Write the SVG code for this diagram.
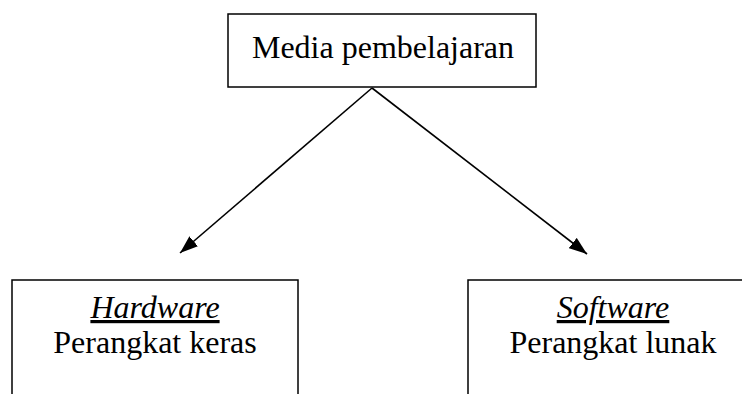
<svg xmlns="http://www.w3.org/2000/svg" width="742" height="394" viewBox="0 0 742 394">
<style>
.box{fill:#fff;stroke:#000;stroke-width:1.5}
.t{font-family:"Liberation Serif","Times New Roman",serif;font-size:32px;fill:#000;text-anchor:middle}
.i{font-style:italic;text-decoration:underline}
.c{stroke:#000;stroke-width:1.6;fill:none}
</style>
<defs>
<marker id="ah" viewBox="0 0 18 13" refX="18" refY="6.5" markerWidth="18" markerHeight="13" markerUnits="userSpaceOnUse" orient="auto">
<path d="M0,0 L18,6.5 L0,13 z" fill="#000"/>
</marker>
</defs>
<g id="connectors">
<line class="c" x1="372" y1="88" x2="180" y2="253" marker-end="url(#ah)"/>
<line class="c" x1="372" y1="88" x2="587" y2="254" marker-end="url(#ah)"/>
</g>
<g id="media">
<rect class="box" x="228" y="14" width="308" height="73"/>
<text class="t" x="383" y="58">Media pembelajaran</text>
</g>
<g id="hardware">
<rect class="box" x="12" y="280" width="286" height="130"/>
<text class="t i" x="155" y="318">Hardware</text>
<text class="t" x="155" y="353">Perangkat keras</text>
</g>
<g id="software">
<rect class="box" x="468" y="280" width="290" height="130"/>
<text class="t i" x="613" y="318">Software</text>
<text class="t" x="613" y="353">Perangkat lunak</text>
</g>
</svg>
